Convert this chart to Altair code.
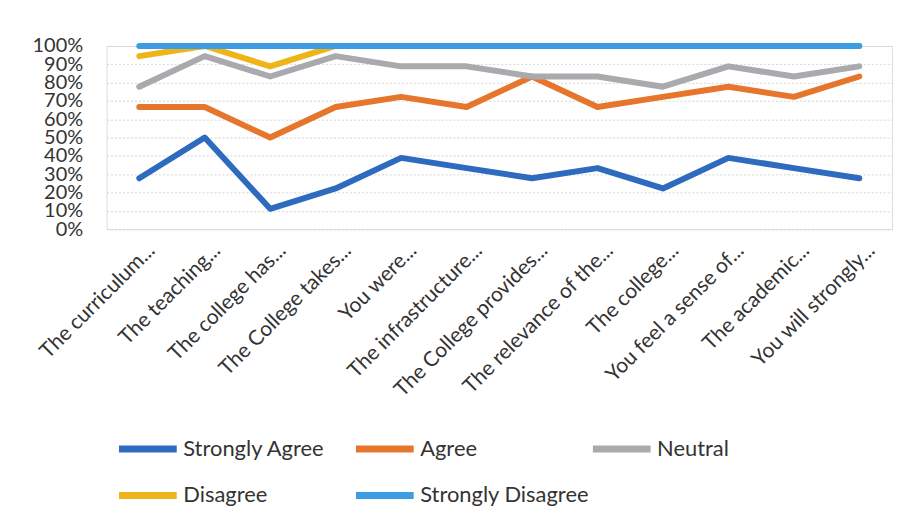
import altair as alt
import pandas as pd

questions = [
    "The curriculum...", "The teaching...", "The college has...", "The College takes...",
    "You were...", "The infrastructure...", "The College provides...", "The relevance of the...",
    "The college...", "You feel a sense of...", "The academic...", "You will strongly...",
]
levels = ["Strongly Agree", "Agree", "Neutral", "Disagree", "Strongly Disagree"]
colors = ["#2E6BBF", "#E5762C", "#A9A9AE", "#EEB41A", "#3D9DE2"]

# respondent counts per statement
strongly_agree = [5, 9, 2, 4, 7, 6, 5, 6, 4, 7, 6, 5]
agree = [7, 3, 7, 8, 6, 6, 10, 6, 9, 7, 7, 10]
neutral = [2, 5, 6, 5, 3, 4, 0, 3, 1, 2, 2, 1]
disagree = [3, 1, 1, 1, 2, 2, 3, 3, 4, 2, 3, 2]
strongly_disagree = [1, 0, 2, 0, 0, 0, 0, 0, 0, 0, 0, 0]

series = [strongly_agree, agree, neutral, disagree, strongly_disagree]
rows = []
for li, (lvl, vals) in enumerate(zip(levels, series)):
    for qi, (q, v) in enumerate(zip(questions, vals)):
        rows.append({"question": q, "qi": qi, "level": lvl, "order": li, "count": v})
df = pd.DataFrame(rows)

FONT = "Lato"

chart = (
    alt.Chart(df)
    .transform_window(cum="sum(count)", frame=[None, 0], sort=[{"field": "order"}], groupby=["question"])
    .transform_joinaggregate(total="sum(count)", groupby=["question"])
    .transform_calculate(pct="datum.cum / datum.total")
    .mark_line(strokeWidth=6, strokeCap="round", strokeJoin="round")
    .encode(
        x=alt.X("question:N", sort=questions, title=None,
                scale=alt.Scale(paddingInner=0, paddingOuter=0.5),
                axis=alt.Axis(labelAngle=-45, labelAlign="right", labelBaseline="middle",
                              labelPadding=18, labelOffset=12, labelFontSize=21, labelFont=FONT,
                              labelColor="#333333", domain=False, ticks=False, grid=False,
                              labelLimit=400, labelOverlap=False)),
        y=alt.Y("pct:Q", title=None,
                scale=alt.Scale(domain=[0, 1], nice=False),
                axis=alt.Axis(values=[i / 10 for i in range(11)], format=".0%",
                              labelFontSize=20, labelFont=FONT, labelColor="#333333",
                              labelPadding=24, domain=False, ticks=False, grid=True,
                              gridColor="#D5D5D5", gridDash=[2, 2], gridWidth=1,
                              labelOverlap=False, labelBound=False)),
        color=alt.Color("level:N", sort=levels,
                        scale=alt.Scale(domain=levels, range=colors),
                        legend=alt.Legend(orient="none", legendX=9, legendY=372, columns=3,
                                          direction="horizontal",
                                          title=None, symbolType="stroke", symbolSize=3364,
                                          symbolStrokeWidth=7, labelFontSize=22, labelFont=FONT,
                                          labelColor="#333333", labelOffset=3, gridAlign="all",
                                          columnPadding=-17, rowPadding=-13, labelLimit=400)),
        order=alt.Order("qi:Q"),
    )
    .properties(width=789, height=184,
                autosize=alt.AutoSizeParams(type="none"),
                padding={"left": 99, "top": 37, "right": 10, "bottom": 290})
    .configure_view(stroke=None)
    .configure(background="white")
)

chart.save("out.html", embed_options={"renderer": "svg", "actions": False})
